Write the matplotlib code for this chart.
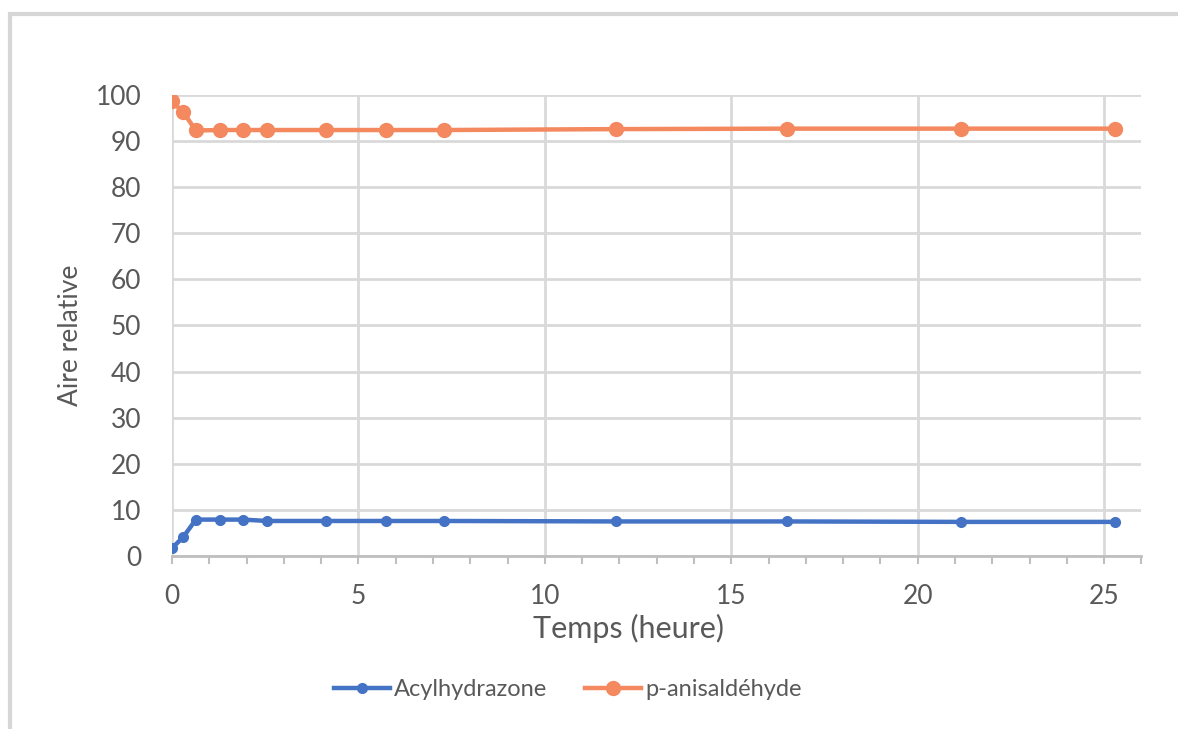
import matplotlib.pyplot as plt
from matplotlib.ticker import MultipleLocator
from matplotlib.patches import Rectangle

# Temps (heure) for each sample
temps = [0, 0.3, 0.64, 1.29, 1.9, 2.55, 4.13, 5.74, 7.29, 11.9, 16.5, 21.15, 25.3]
acylhydrazone = [1.7, 4.1, 7.9, 7.9, 7.9, 7.6, 7.6, 7.6, 7.6, 7.5, 7.5, 7.4, 7.4]
anisaldehyde = [98.6, 96.3, 92.3, 92.4, 92.4, 92.4, 92.4, 92.4, 92.4, 92.6, 92.7, 92.7, 92.7]

plt.rcParams["font.family"] = ["Lato", "DejaVu Sans"]
text_color = "#595959"
grid_color = "#d9d9d9"

fig = plt.figure(figsize=(11.78, 7.29), dpi=100)
ax = fig.add_axes([0.146, 0.2373, 0.823, 0.6324])

# outer chart border
fig.patches.append(Rectangle((0.0085, -0.05), 1.2, 1.031, transform=fig.transFigure,
                             fill=False, edgecolor="#d6d6d6", linewidth=3))

ax.plot(temps, acylhydrazone, color="#4472c4", linewidth=3.2, marker="o",
        markersize=7, label="Acylhydrazone", zorder=3)
ax.plot(temps, anisaldehyde, color="#f4895f", linewidth=3.2, marker="o",
        markersize=10, label="p-anisaldéhyde", zorder=3)

ax.set_xlim(0, 26)
ax.set_ylim(0, 100)
ax.xaxis.set_major_locator(MultipleLocator(5))
ax.xaxis.set_minor_locator(MultipleLocator(1))
ax.yaxis.set_major_locator(MultipleLocator(10))

ax.grid(True, which="major", color=grid_color, linewidth=2)
ax.set_axisbelow(True)
for side in ["top", "right", "left"]:
    ax.spines[side].set_visible(False)
ax.spines["bottom"].set_color("#bfbfbf")
ax.spines["bottom"].set_linewidth(2)

ax.tick_params(axis="y", length=0, pad=22, labelsize=19, labelcolor=text_color)
ax.tick_params(axis="x", which="both", length=6, width=1.5, color="#bfbfbf",
               pad=14, labelsize=19, labelcolor=text_color)

ax.set_xlabel("Temps (heure)", fontsize=22, color=text_color)
ax.xaxis.set_label_coords(0.471, -0.125)
ax.set_ylabel("Aire relative", fontsize=19, color=text_color)
ax.yaxis.set_label_coords(-0.092, 0.479)

ax.legend(loc="center", bbox_to_anchor=(0.408, -0.29), ncol=2, frameon=False,
          fontsize=17, labelcolor=text_color, handlelength=2.4, columnspacing=1.6,
          handletextpad=0.15)

fig.savefig("out.png", dpi=100)
